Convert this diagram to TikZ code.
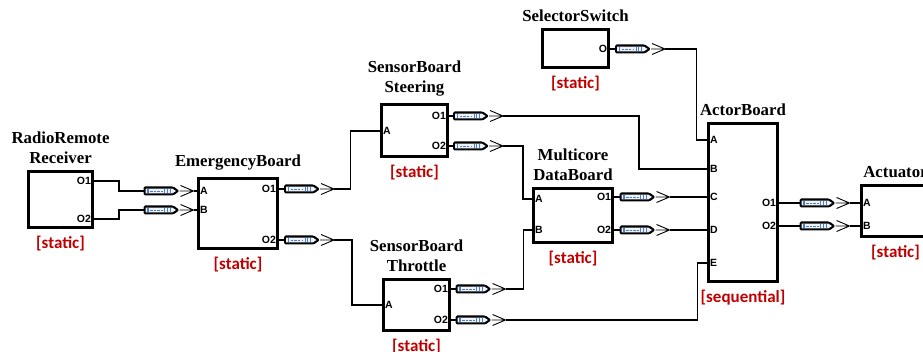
\documentclass[tikz,border=0pt]{standalone}
\usepackage{fontspec}
\newfontfamily\fonttitulo{Liberation Serif}
\newfontfamily\fontporta{Liberation Sans}
\newfontfamily\fonttipo{Carlito}
\definecolor{vermelho}{HTML}{C00000}
\definecolor{azul}{HTML}{4A7EC4}
\definecolor{azulclaro}{HTML}{EEF3FA}
\tikzset{
  bloco/.style={draw, line width=3pt, fill=white, inner sep=0pt},
  titulo/.style={font=\fonttitulo\bfseries\fontsize{16.8pt}{20pt}\selectfont, align=center, anchor=south, inner sep=0pt, yshift=6.5pt},
  tipo/.style={font=\fonttipo\bfseries\fontsize{17pt}{20pt}\selectfont, text=vermelho, anchor=north, inner sep=1pt, yshift=-6pt},
  porta/.style={font=\fontporta\bfseries\fontsize{10.5pt}{12pt}\selectfont, inner sep=2.8pt},
  fio/.style={line width=1.1pt},
  canal/.pic={ %canal entre portas
    \coordinate (-in) at (0,0);
    \coordinate (-out) at (50,0);
    \fill[black, rounded corners=1.5pt] (0,-4.5) -- (30,-4.5) -- (36,0) -- (30,4.5) -- (0,4.5) -- cycle;
    \fill[azulclaro] (2,-2.3) -- (29,-2.3) -- (32.5,0) -- (29,2.3) -- (2,2.3) -- cycle;
    \draw[azul, line width=1.2pt] (4.5,-2.3) -- (4.5,2.3);
    \draw[azul, line width=0.9pt, dash pattern=on 2.5pt off 1.2pt] (6.5,0) -- (19,0);
    \foreach \t in {21,23.8,26.6} \draw[azul, line width=0.9pt] (\t,-2.3) -- (\t,2.3);
    \draw[line width=0.9pt] (36,0) -- (50,0) (37,-5.5) -- (50,0) -- (37,5.5); %ponta aberta
  }
}
\begin{document}
\begin{tikzpicture}[x=1pt, y=-1pt]
  \clip (0,0) rectangle (923,352); %area do desenho
    %Blocos
  \foreach \blk/\cx/\cy/\w/\h/\tit/\tp in {
      rr/60.5/199.5/64/56/{RadioRemote\\Receiver}/static,
      eb/238/213.5/79/70/EmergencyBoard/static,
      ss/414.5/130.5/66/52/{SensorBoard\\Steering}/static,
      st/416.5/305/66/51/{SensorBoard\\Throttle}/static,
      sel/575.5/48.5/66/38/SelectorSwitch/static,
      mc/573/215.5/79/54/{Multicore\\DataBoard}/static,
      ab/743/202.5/69/158/ActorBoard/sequential,
      act/895.5/211/68/51/Actuator/static}{
    \node[bloco, minimum width=\w pt, minimum height=\h pt] (\blk) at (\cx,\cy) {};
    \node[titulo] (\blk-tit) at (\blk.north) {\tit};
    \node[tipo] (\blk-tipo) at (\blk.south) {[\tp]};
  }
    %Portas
  \foreach \blk/\lado/\py/\txt in {
      rr/east/181/O1, rr/east/219/O2,
      eb/west/191/A, eb/west/210/B, eb/east/189/O1, eb/east/240/O2,
      ss/west/131/A, ss/east/116/O1, ss/east/146/O2,
      st/west/305/A, st/east/289/O1, st/east/320/O2,
      sel/east/49/O,
      mc/west/199/A, mc/west/230/B, mc/east/197/O1, mc/east/230/O2,
      ab/west/140/A, ab/west/169/B, ab/west/197/C, ab/west/230/D, ab/west/263/E,
      ab/east/203/O1, ab/east/226/O2,
      act/west/203/A, act/west/226/B}{
    \coordinate (\blk-\txt) at (\blk.\lado |- 0,\py);
    \node[porta, anchor=\lado] (\blk-\txt-rot) at (\blk-\txt) {\txt};
  }
    %Canais
  \foreach \g/\p/\dx in {g1/eb-A/-53.5, g2/eb-B/-53.5, g3/eb-O1/5, g4/eb-O2/5,
      g5/ss-O1/4, g6/ss-O2/4, g7/sel-O/5, g8/mc-O1/5.5, g9/mc-O2/5.5,
      g10/st-O1/4.5, g11/st-O2/4.5, g12/ab-O1/20.5, g13/ab-O2/20.5}
    \pic (\g) at ([xshift=\dx pt]\p) {canal};
    %Fios retos
  \foreach \de/\para in {g1-out/eb-A, g2-out/eb-B, eb-O1/g3-in, eb-O2/g4-in,
      ss-O1/g5-in, ss-O2/g6-in, sel-O/g7-in, mc-O1/g8-in, mc-O2/g9-in,
      st-O1/g10-in, st-O2/g11-in, g8-out/ab-C, g9-out/ab-D,
      ab-O1/g12-in, ab-O2/g13-in, g12-out/act-A, g13-out/act-B}
    \draw[fio] (\de) -- (\para);
    %Fios com dobras
  \draw[fio] (rr-O1) -- ++(25,0) |- (g1-in);
  \draw[fio] (rr-O2) -- ++(25,0) |- (g2-in);
  \draw[fio] (g3-out) -- ++(16.5,0) |- (ss-A);
  \draw[fio] (g4-out) -- ++(18,0) |- (st-A);
  \draw[fio] (g5-out) -- ++(136,0) |- (ab-B);
  \draw[fio] (g6-out) -- ++(20,0) |- (mc-A);
  \draw[fio] (g10-out) -- ++(17.7,0) |- (mc-B);
  \draw[fio] (g11-out) -- ++(191.7,0) |- (ab-E);
  \draw[fio] (g7-out) -- ++(31.5,0) |- (ab-A);
\end{tikzpicture}
\end{document}
